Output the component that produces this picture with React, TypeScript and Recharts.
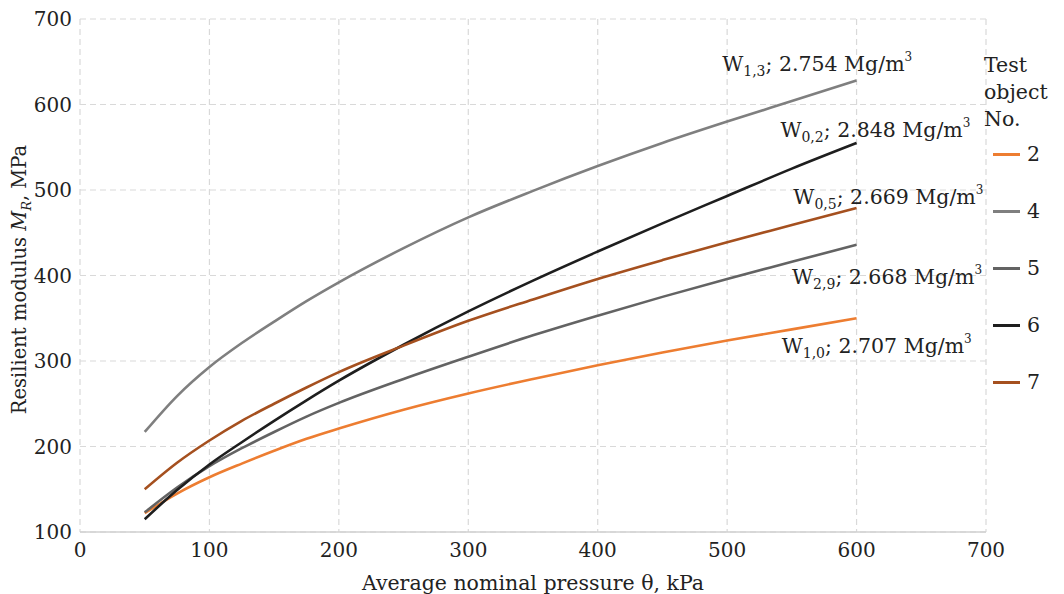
import React from 'react';
import {
  LineChart,
  Line,
  XAxis,
  YAxis,
  CartesianGrid,
  ReferenceDot,
} from 'recharts';

const FONT = '"DejaVu Serif", serif';

// average nominal pressure, kPa
const PRESSURE = [50, 75, 100, 125, 150, 175, 200, 250, 300, 350, 400, 450, 500, 550, 600];

// resilient modulus MR, MPa
const OBJ_2 = [122, 145, 164, 180, 195, 209, 221, 243, 262, 279, 295, 310, 324, 337, 350];
const OBJ_4 = [217, 259, 293, 321, 346, 370, 392, 432, 468, 499, 528, 555, 580, 604, 628];
const OBJ_5 = [123, 152, 177, 198, 217, 235, 251, 279, 305, 330, 353, 375, 396, 416, 436];
const OBJ_6 = [115, 149, 179, 205, 230, 254, 277, 319, 358, 394, 428, 461, 493, 525, 555];
const OBJ_7 = [150, 181, 207, 230, 250, 269, 287, 318, 347, 372, 396, 418, 439, 459, 479];

const X_TICKS = [0, 100, 200, 300, 400, 500, 600, 700];
const Y_TICKS = [100, 200, 300, 400, 500, 600, 700];

const SERIES = [
  { key: 'o2', name: '2', values: OBJ_2, color: '#ED7D31' },
  { key: 'o4', name: '4', values: OBJ_4, color: '#7F7F7F' },
  { key: 'o5', name: '5', values: OBJ_5, color: '#636363' },
  { key: 'o6', name: '6', values: OBJ_6, color: '#1E1E1E' },
  { key: 'o7', name: '7', values: OBJ_7, color: '#A5501F' },
];

// curve annotations; x = right end of the text, y = baseline (data units)
const NOTES = [
  { sub: '1,3', rest: '; 2.754 Mg/m', x: 643, y: 639 },
  { sub: '0,2', rest: '; 2.848 Mg/m', x: 688, y: 562 },
  { sub: '0,5', rest: '; 2.669 Mg/m', x: 698, y: 484 },
  { sub: '2,9', rest: '; 2.668 Mg/m', x: 697, y: 390 },
  { sub: '1,0', rest: '; 2.707 Mg/m', x: 689, y: 309 },
];

const data = PRESSURE.map((p, i) => {
  const row: Record<string, number> = { p };
  SERIES.forEach((s) => (row[s.key] = s.values[i]));
  return row;
});

const noteLabel = (n: typeof NOTES[number]) => (props: any) => {
  const { viewBox } = props;
  const x = viewBox.x + (viewBox.width || 0) / 2;
  const y = viewBox.y + (viewBox.height || 0) / 2;
  return (
    <text x={x} y={y} textAnchor="end" fontFamily={FONT} fontSize={20.5} fill="#222">
      W
      <tspan fontSize={14} dy={5}>{n.sub}</tspan>
      <tspan dy={-5}>{n.rest}</tspan>
      <tspan fontSize={12} dy={-10}>3</tspan>
    </text>
  );
};

const yLabel = (props: any) => {
  const { viewBox } = props;
  const cx = 19;
  const cy = viewBox.y + viewBox.height / 2 + 4;
  return (
    <text
      x={cx}
      y={cy}
      dy={7}
      textAnchor="middle"
      transform={`rotate(-90, ${cx}, ${cy})`}
      fontFamily={FONT}
      fontSize={19.5}
      fill="#222"
    >
      Resilient modulus <tspan fontStyle="italic">M</tspan>
      <tspan fontStyle="italic" fontSize={13} dy={5}>R</tspan>
      <tspan dy={-5}>, MPa</tspan>
    </text>
  );
};

const xLabel = (props: any) => {
  const { viewBox } = props;
  return (
    <text
      x={viewBox.x + viewBox.width / 2}
      y={590}
      textAnchor="middle"
      fontFamily={FONT}
      fontSize={20.5}
      fill="#222"
    >
      Average nominal pressure θ, kPa
    </text>
  );
};

const Legend = () => (
  <div
    style={{
      position: 'absolute',
      left: 984,
      top: 52,
      fontFamily: FONT,
      fontSize: 20.5,
      color: '#222',
    }}
  >
    <div style={{ lineHeight: '27px' }}>
      Test
      <br />
      object
      <br />
      No.
    </div>
    {SERIES.map((s, i) => (
      <div
        key={s.key}
        style={{
          position: 'absolute',
          top: 90 + i * 57,
          left: 9,
          display: 'flex',
          alignItems: 'center',
          whiteSpace: 'nowrap',
        }}
      >
        <span style={{ width: 27, height: 3, background: s.color, display: 'inline-block' }} />
        <span style={{ marginLeft: 7 }}>{s.name}</span>
      </div>
    ))}
  </div>
);

export default function App() {
  return (
    <div style={{ position: 'absolute', left: 0, top: 0, width: 1064, height: 594, background: '#fff' }}>
      <LineChart width={1064} height={594} data={data} margin={{ top: 19, right: 78, bottom: 0, left: 0 }}>
        <CartesianGrid stroke="#D9D9D9" strokeDasharray="6 4" strokeWidth={1.2} />
        <XAxis
          dataKey="p"
          type="number"
          domain={[0, 700]}
          ticks={X_TICKS}
          height={62}
          tickLine={false}
          axisLine={{ stroke: '#D0D0D0', strokeWidth: 1.5 }}
          tickMargin={5}
          tick={{ fontFamily: FONT, fontSize: 20, fill: '#222' }}
          label={{ content: xLabel }}
        />
        <YAxis
          type="number"
          domain={[100, 700]}
          ticks={Y_TICKS}
          width={80}
          tickLine={false}
          axisLine={false}
          tick={{ fontFamily: FONT, fontSize: 20, fill: '#222' }}
          label={{ content: yLabel }}
        />
        {SERIES.map((s) => (
          <Line
            key={s.key}
            type="monotone"
            dataKey={s.key}
            name={s.name}
            stroke={s.color}
            strokeWidth={2.6}
            dot={false}
            isAnimationActive={false}
          />
        ))}
        {NOTES.map((n) => (
          <ReferenceDot
            key={n.sub}
            x={n.x}
            y={n.y}
            r={0}
            stroke="none"
            fill="none"
            ifOverflow="visible"
            label={{ content: noteLabel(n) }}
          />
        ))}
      </LineChart>
      <Legend />
    </div>
  );
}
